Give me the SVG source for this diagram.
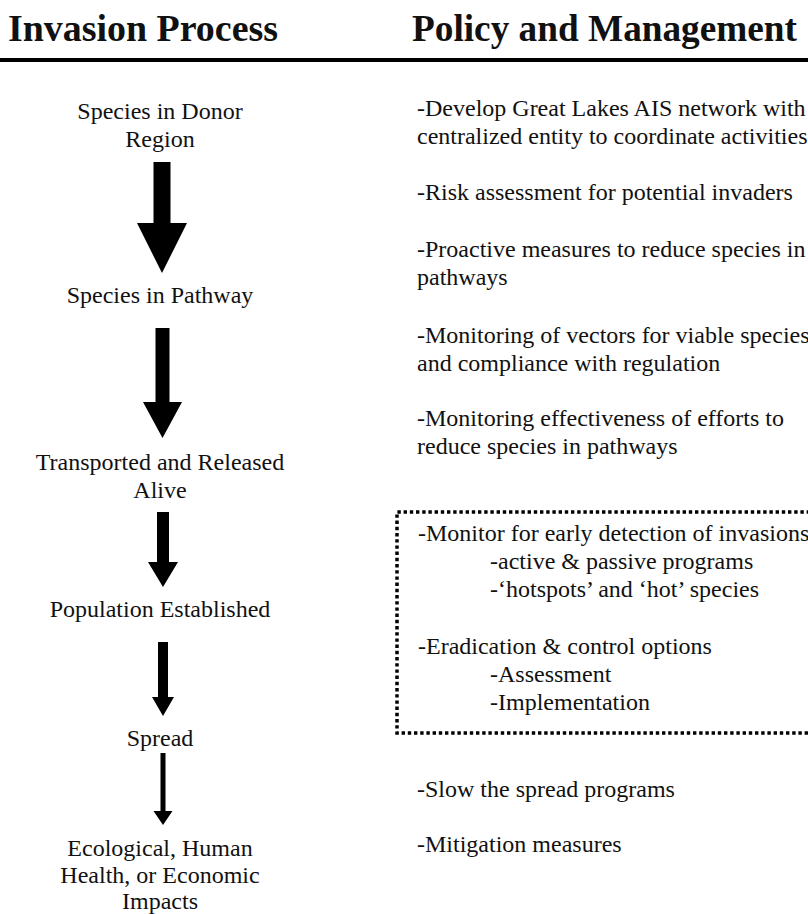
<svg xmlns="http://www.w3.org/2000/svg" width="808" height="914" viewBox="0 0 808 914">
<style>
text{font-family:"Liberation Serif","Times New Roman",serif;fill:#111;}
.hd{font-size:38px;font-weight:bold;}
.t{font-size:24px;}
.c{text-anchor:middle;}
.arrow{fill:#000;}
.box{fill:none;stroke:#000;stroke-width:3.5;stroke-dasharray:3.4 2.8;}
</style>
<rect x="0" y="0" width="808" height="914" fill="#fff"/>
<g id="headers">
<text class="hd" x="8" y="41" textLength="270" lengthAdjust="spacingAndGlyphs">Invasion Process</text>
<text class="hd" x="412" y="41" textLength="385" lengthAdjust="spacingAndGlyphs">Policy and Management</text>
<rect x="0" y="58" width="808" height="4" fill="#000"/>
</g>
<g id="n-donor"><text class="t c" x="160" y="119">Species in Donor</text><text class="t c" x="160" y="147">Region</text></g>
<g id="n-pathway"><text class="t c" x="160" y="303">Species in Pathway</text></g>
<g id="n-transported"><text class="t c" x="160" y="470">Transported and Released</text><text class="t c" x="160" y="498">Alive</text></g>
<g id="n-established"><text class="t c" x="160" y="617">Population Established</text></g>
<g id="n-spread"><text class="t c" x="160" y="746">Spread</text></g>
<g id="n-impacts"><text class="t c" x="160" y="856">Ecological, Human</text><text class="t c" x="160" y="883">Health, or Economic</text><text class="t c" x="160" y="909">Impacts</text></g>
<g id="connectors">
<path class="arrow" d="M153.5,162 H170.5 V223 H187 L162,273 L137,223 H153.5 Z"/>
<path class="arrow" d="M155.5,328 H169.5 V402 H182 L162.5,438 L143,402 H155.5 Z"/>
<path class="arrow" d="M157,512 H169 V562 H178 L163,587 L148,562 H157 Z"/>
<path class="arrow" d="M158,642 H168 V697 H174 L163,716 L152,697 H158 Z"/>
<path class="arrow" d="M160.5,753 H165.5 V811 H172.5 L163,825 L153.5,811 H160.5 Z"/>
</g>
<g id="p-network"><text class="t" x="417" y="116">-Develop Great Lakes AIS network with</text><text class="t" x="417" y="144">centralized entity to coordinate activities</text></g>
<g id="p-risk"><text class="t" x="417" y="200">-Risk assessment for potential invaders</text></g>
<g id="p-proactive"><text class="t" x="417" y="257">-Proactive measures to reduce species in</text><text class="t" x="417" y="285">pathways</text></g>
<g id="p-vectors"><text class="t" x="417" y="343">-Monitoring of vectors for viable species</text><text class="t" x="417" y="371">and compliance with regulation</text></g>
<g id="p-effectiveness"><text class="t" x="417" y="426">-Monitoring effectiveness of efforts to</text><text class="t" x="417" y="454">reduce species in pathways</text></g>
<g id="p-box">
<path class="box" d="M810,512 H397 V733 H810"/>
<text class="t" x="418" y="541">-Monitor for early detection of invasions</text>
<text class="t" x="490" y="569">-active &amp; passive programs</text>
<text class="t" x="490" y="597">-‘hotspots’ and ‘hot’ species</text>
<text class="t" x="418" y="654">-Eradication &amp; control options</text>
<text class="t" x="490" y="682">-Assessment</text>
<text class="t" x="490" y="710">-Implementation</text>
</g>
<g id="p-slow"><text class="t" x="417" y="797">-Slow the spread programs</text></g>
<g id="p-mitigation"><text class="t" x="417" y="852">-Mitigation measures</text></g>
</svg>
